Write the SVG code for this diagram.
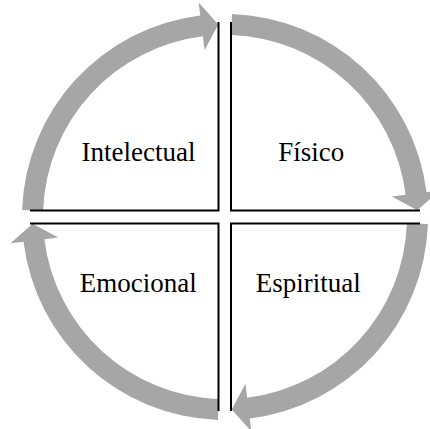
<svg xmlns="http://www.w3.org/2000/svg" width="430" height="429" viewBox="0 0 430 429">
  <style>
    .arrow { fill: #a6a6a6; stroke: none; }
    .box { fill: none; stroke: #000; stroke-width: 2; }
    .label { font-family: "Liberation Serif", "Times New Roman", serif; font-size: 27px; fill: #000; text-anchor: middle; }
  </style>
  <rect width="430" height="429" fill="#fff"/>
  <g id="connectors">
    <path class="arrow" d="M22.12 209.92 A203 203 0 0 1 200.26 15.51 L198.68 2.61 L218.28 24.62 L204.53 50.25 L202.82 36.36 A182 182 0 0 0 43.11 210.65 Z"/>
    <path class="arrow" d="M232.08 14.12 A203 203 0 0 1 426.49 192.26 L439.39 190.68 L417.38 210.28 L391.75 196.53 L405.64 194.82 A182 182 0 0 0 231.35 35.11 Z"/>
    <path class="arrow" d="M427.88 224.08 A203 203 0 0 1 249.74 418.49 L251.32 431.39 L231.72 409.38 L245.47 383.75 L247.18 397.64 A182 182 0 0 0 406.89 223.35 Z"/>
    <path class="arrow" d="M217.92 419.88 A203 203 0 0 1 23.51 241.74 L10.61 243.32 L32.62 223.72 L58.25 237.47 L44.36 239.18 A182 182 0 0 0 218.65 398.89 Z"/>
  </g>
  <g id="intelectual">
    <path class="box" d="M30 210.5 H218.5 V22"/>
    <text class="label" x="138.5" y="160.7">Intelectual</text>
  </g>
  <g id="fisico">
    <path class="box" d="M231 22 V210.5 H420"/>
    <text class="label" x="311.3" y="160.7">Físico</text>
  </g>
  <g id="emocional">
    <path class="box" d="M30 223.5 H218.5 V411"/>
    <text class="label" x="138.3" y="291.7">Emocional</text>
  </g>
  <g id="espiritual">
    <path class="box" d="M231 411 V223.5 H420"/>
    <text class="label" x="308.3" y="291.7">Espiritual</text>
  </g>
</svg>
